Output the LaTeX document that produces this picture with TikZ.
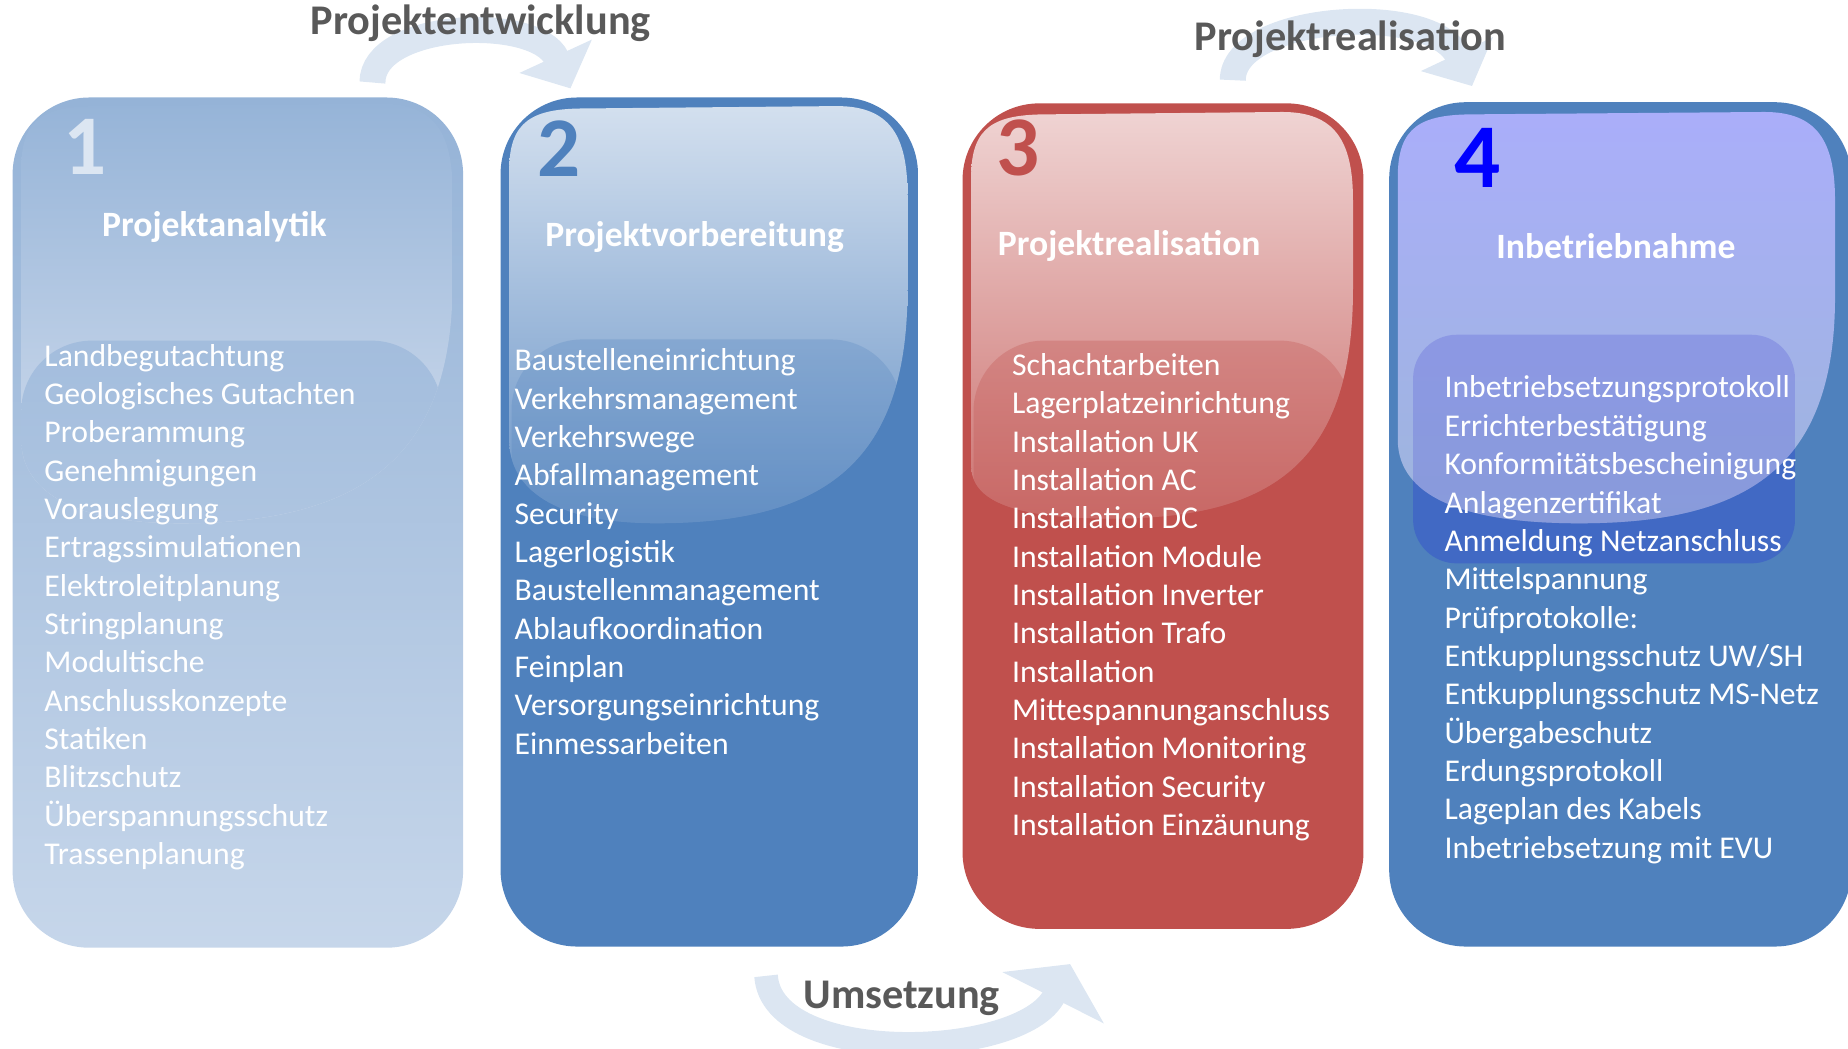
\documentclass[tikz,border=0pt]{standalone}
\usepackage{fontspec}
\setmainfont{Carlito}
\usetikzlibrary{arrows.meta}

\definecolor{stepblue}{HTML}{4F81BD}
\definecolor{stepred}{HTML}{C0504D}
\definecolor{arcblue}{HTML}{DCE6F2}
\definecolor{labelgray}{HTML}{595959}
\definecolor{royalblue}{HTML}{4169C4}
\definecolor{paletop}{HTML}{95B3D7}
\definecolor{palebottom}{HTML}{C6D6EA}

\tikzset{
  phase/.style={rectangle,rounded corners=0.65cm,anchor=north west,inner sep=0pt},
  phasenum/.style={font=\fontsize{20.5}{24}\selectfont\bfseries,anchor=base west,inner sep=0pt},
  phasetitle/.style={font=\fontsize{8.6}{10}\selectfont\bfseries,text=white,anchor=base west,inner sep=0pt},
  itemlist/.style={font=\fontsize{7.65}{9.25}\selectfont,text=white,align=left,anchor=north west,inner sep=0pt},
  cyclearc/.style={draw=arcblue,line width=0.22cm},
  cyclelabel/.style={font=\fontsize{10.2}{12}\selectfont\bfseries,text=labelgray,anchor=base west,inner sep=0pt}
}

\begin{document}
\begin{tikzpicture}[x=0.01cm,y=-0.01cm]
\useasboundingbox (0,0) rectangle (1568,890);

% circular arrows
\coordinate (devstart) at (316,70);
\coordinate (devend) at (484,75);
\coordinate (realstart) at (1046,68);
\coordinate (realend) at (1249,73);
\coordinate (umsstart) at (650,828);
\coordinate (umsend) at (908,818);
\draw[cyclearc,-{Triangle[length=0.3cm,width=0.66cm]}] (devstart) .. controls (316,18) and (455,12) .. (devend);
\draw[cyclearc,-{Triangle[length=0.3cm,width=0.66cm]}] (realstart) .. controls (1046,12) and (1215,1) .. (realend);
\draw[cyclearc,line width=0.2cm,-{Triangle[length=0.32cm,width=0.95cm]}] (umsstart) .. controls (655,905) and (867,899) .. (umsend);
\node[cyclelabel] (devlabel) at (263,29) {Projektentwicklung};
\node[cyclelabel] (reallabel) at (1013,42.5) {Projektrealisation};
\node[cyclelabel] (umslabel) at (681,856) {Umsetzung};

% box 1
\node[phase,top color=paletop,bottom color=palebottom,minimum width=3.82cm,minimum height=7.21cm] (box1) at (10,82) {};
\begin{scope}
\clip (18,143) .. controls (18,100) and (38,90) .. (83,90) -- (324,88) .. controls (369,88) and (384,113) .. (384,163) -- (384,240) .. controls (384,384) and (311,444) .. (153,444) .. controls (58,444) and (18,414) .. (18,373) -- cycle;
\shade[top color={rgb,255:red,150;green,180;blue,216},bottom color={rgb,255:red,211;green,222;blue,238}] (18,88) rectangle (384,444);
\shade[top color={rgb,255:red,163;green,189;blue,221},bottom color={rgb,255:red,191;green,209;blue,231},rounded corners=0.6cm] (18,289) rectangle (375,700);
\end{scope}

% box 2
\node[phase,fill=stepblue,minimum width=3.54cm,minimum height=7.20cm] (box2) at (424,82) {};
\begin{scope}
\clip (432,145) .. controls (432,102) and (452,92) .. (497,92) -- (710,90) .. controls (755,90) and (770,115) .. (770,165) -- (770,246) .. controls (770,390) and (702,444) .. (557,444) .. controls (469,444) and (432,414) .. (432,373) -- cycle;
\shade[top color=stepblue!25!white,bottom color=stepblue!85!white] (432,90) rectangle (770,444);
\fill[fill=stepblue,opacity=0.25,rounded corners=0.6cm] (434,288) rectangle (765,700);
\end{scope}

% box 3
\node[phase,fill=stepred,minimum width=3.40cm,minimum height=7.00cm] (box3) at (816,87) {};
\begin{scope}
\clip (824,150) .. controls (824,107) and (844,97) .. (889,97) -- (1088,95) .. controls (1133,95) and (1148,120) .. (1148,170) -- (1148,245) .. controls (1148,389) and (1083,440) .. (944,440) .. controls (860,440) and (824,425) .. (824,395) -- cycle;
\shade[top color=stepred!25!white,bottom color=stepred!80!white] (824,95) rectangle (1148,440);
\fill[fill=stepred,opacity=0.3,rounded corners=0.6cm] (826,289) rectangle (1146,700);
\end{scope}

% box 4
\node[phase,fill=stepblue,minimum width=3.92cm,minimum height=7.16cm] (box4) at (1178,86) {};
\fill[fill=royalblue,rounded corners=0.37cm] (1199,284) rectangle (1523,478);
\begin{scope}
\clip (1186,150) .. controls (1186,107) and (1206,97) .. (1251,97) -- (1497,95) .. controls (1542,95) and (1557,120) .. (1557,170) -- (1557,252) .. controls (1557,396) and (1483,444) .. (1340,444) .. controls (1227,444) and (1186,414) .. (1186,373) -- cycle;
\shade[top color={rgb,255:red,170;green,174;blue,250},bottom color={rgb,255:red,157;green,181;blue,220}] (1186,95) rectangle (1557,444);
\fill[fill={rgb,255:red,90;green,95;blue,216},opacity=0.3,rounded corners=0.37cm] (1199,284) rectangle (1523,478);
\end{scope}

% numbers and titles
\node[phasenum,text=arcblue] (num1) at (53,148) {1};
\node[phasenum,text=stepblue] (num2) at (455,150) {2};
\node[phasenum,text=stepred] (num3) at (845,149) {3};
\node[phasenum,text=blue,font=\fontsize{22}{26}\selectfont\bfseries] (num4) at (1233,159) {4};
\node[phasetitle] (title1) at (86,201) {Projektanalytik};
\node[phasetitle] (title2) at (462,209.5) {Projektvorbereitung};
\node[phasetitle] (title3) at (846,217) {Projektrealisation};
\node[phasetitle] (title4) at (1269,219) {Inbetriebnahme};

% task lists
\node[itemlist] (list1) at (37,287.2) {\strut Landbegutachtung\\Geologisches Gutachten\\Proberammung\\Genehmigungen\\Vorauslegung\\Ertragssimulationen\\Elektroleitplanung\\Stringplanung\\Modultische\\Anschlusskonzepte\\Statiken\\Blitzschutz\\Überspannungsschutz\\Trassenplanung};
\node[itemlist] (list2) at (436,291.2) {\strut Baustelleneinrichtung\\Verkehrsmanagement\\Verkehrswege\\Abfallmanagement\\Security\\Lagerlogistik\\Baustellenmanagement\\Ablaufkoordination\\Feinplan\\Versorgungseinrichtung\\Einmessarbeiten};
\node[itemlist] (list3) at (858,295.2) {\strut Schachtarbeiten\\Lagerplatzeinrichtung\\Installation UK\\Installation AC\\Installation DC\\Installation Module\\Installation Inverter\\Installation Trafo\\Installation\\Mittespannunganschluss\\Installation Monitoring\\Installation Security\\Installation Einzäunung};
\node[itemlist] (list4) at (1225,314.2) {\strut Inbetriebsetzungsprotokoll\\Errichterbestätigung\\Konformitätsbescheinigung\\Anlagenzertifikat\\Anmeldung Netzanschluss\\Mittelspannung\\Prüfprotokolle:\\Entkupplungsschutz UW/SH\\Entkupplungsschutz MS-Netz\\Übergabeschutz\\Erdungsprotokoll\\Lageplan des Kabels\\Inbetriebsetzung mit EVU};

\end{tikzpicture}
\end{document}
